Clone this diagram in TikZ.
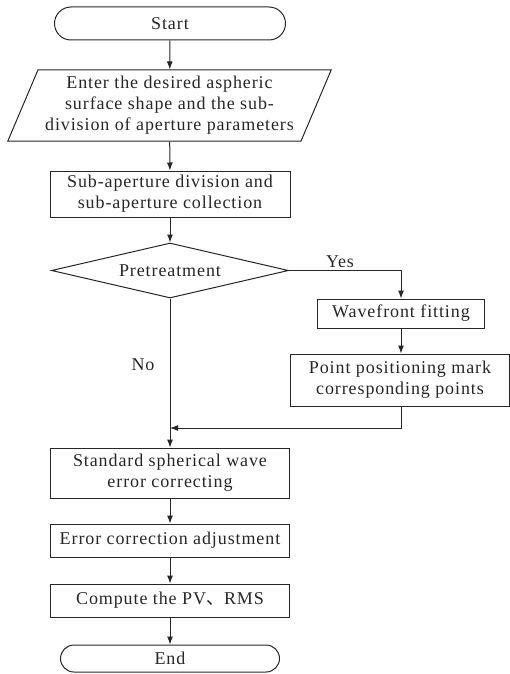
\documentclass[tikz,border=0pt]{standalone}
\usepackage{fontspec}
\setmainfont{Liberation Serif}[LetterSpace=5]
\newfontfamily\cjk{Noto Sans CJK SC}
\usetikzlibrary{arrows.meta, shapes.geometric, shapes.misc, positioning}
\tikzset{
  base/.style = {align=center, inner sep=0pt, text centered,
    font=\fontsize{18}{21}\selectfont, text=black!85,
    draw=black!85, line width=1pt},
  proc/.style = {base, rectangle},
  term/.style = {base, rounded rectangle},
  io/.style = {base, trapezium, trapezium left angle=64,
    trapezium right angle=116, trapezium stretches=true},
  dec/.style = {base, diamond, aspect=4.3},
  lbl/.style = {font=\fontsize{18}{21}\selectfont, text=black!85},
  flow/.style = {->, draw=black!85, line width=1pt}
}

\begin{document}
\begin{tikzpicture}[x=1pt, y=-1pt, >={Latex[length=8pt,width=6pt]}]
\useasboundingbox (0,0) rectangle (510,674);
\node [term, minimum width=231pt, minimum height=33pt] (start) at (170,23.5) {Start};
\node [io, minimum width=324pt, minimum height=71pt] (input) at (169.5,105.5)
  {Enter the desired aspheric\\surface shape and the sub-\\division of aperture parameters};
\node [proc, minimum width=240pt, minimum height=46pt] (divide) at (170,194)
  {Sub-aperture division and\\sub-aperture collection};
\node [dec, minimum width=237pt, minimum height=55pt] (pre) at (170,270.5) {Pretreatment};
\node [proc, minimum width=167pt, minimum height=29pt] (fit) at (401,313.5) {Wavefront fitting};
\node [proc, minimum width=219pt, minimum height=52pt] (mark) at (400,380)
  {Point positioning mark\\corresponding points};
\node [proc, minimum width=239pt, minimum height=50pt] (std) at (170,473)
  {Standard spherical wave\\error correcting};
\node [proc, minimum width=239pt, minimum height=33pt] (adj) at (170,540.5) {Error correction adjustment};
\node [proc, minimum width=239pt, minimum height=33pt] (pvrms) at (170,600.5) {Compute the PV{\cjk 、}RMS};
\node [term, minimum width=219pt, minimum height=27pt] (end) at (170,658.5) {End};
\node [lbl] (yes) at (340,262) {Yes};
\node [lbl] (no) at (143,365) {No};
\coordinate (join) at (170,428);

\draw [flow] (start) -- (input);
\draw [flow] (input) -- (divide);
\draw [flow] (divide) -- (pre);
\draw [flow] (pre.east) -| (fit.north);
\draw [flow] (fit.south) -- (fit.south |- mark.north);
\draw [flow] (mark.south -| fit.south) |- (join);
\draw [flow] (pre.south) -- (std.north);
\draw [flow] (std) -- (adj);
\draw [flow] (adj) -- (pvrms);
\draw [flow] (pvrms) -- (end);
\end{tikzpicture}
\end{document}
